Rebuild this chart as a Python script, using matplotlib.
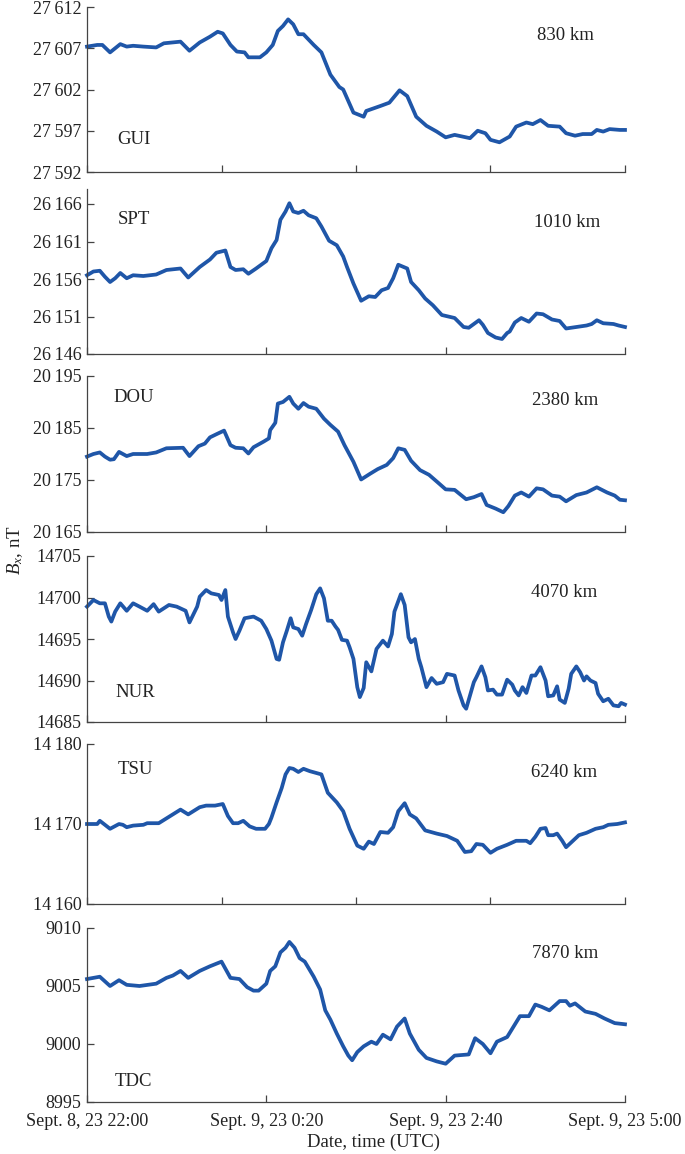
import matplotlib
matplotlib.use("Agg")
import matplotlib.pyplot as plt

plt.rcParams['font.family'] = ['Liberation Serif', 'DejaVu Serif']
plt.rcParams['mathtext.fontset'] = 'custom'
plt.rcParams['mathtext.rm'] = 'Liberation Serif'
plt.rcParams['mathtext.it'] = 'Liberation Serif:italic'

# time in minutes after Sept. 8, 23 22:00 UTC
GUI_t = [0, 8, 12, 18, 26, 31, 36, 44, 54, 60, 73, 80, 88, 96, 102, 106, 112, 117, 123, 126,
         135, 140, 145, 149, 153, 157, 161, 165, 169, 177, 183, 190, 197, 200, 208, 216, 218, 229, 236, 244,
         250, 257, 265, 273, 280, 287, 299, 305, 311, 315, 322, 330, 335, 343, 348, 354, 360, 369, 374, 381,
         387, 394, 398, 403, 408, 416, 420]
GUI_v = [27607.2, 27607.4, 27607.4, 27606.5, 27607.5, 27607.2, 27607.3, 27607.2, 27607.1, 27607.6,
         27607.8, 27606.7, 27607.7, 27608.4, 27609.0, 27608.8, 27607.4, 27606.6, 27606.5, 27605.9,
         27605.9, 27606.5, 27607.4, 27609.1, 27609.7, 27610.5, 27609.9, 27608.7, 27608.7, 27607.4,
         27606.5, 27603.8, 27602.3, 27602.0, 27599.2, 27598.7, 27599.4, 27600.0, 27600.4, 27601.9,
         27601.2, 27598.7, 27597.6, 27596.9, 27596.2, 27596.5, 27596.1, 27597.0, 27596.7, 27595.9,
         27595.6, 27596.3, 27597.5, 27598.0, 27597.8, 27598.3, 27597.6, 27597.5, 27596.7, 27596.4,
         27596.6, 27596.6, 27597.1, 27596.9, 27597.2, 27597.1, 27597.1]

SPT_t = [0, 5, 10, 14, 18, 22, 26, 31, 36, 44, 54, 62, 73, 79, 88, 96, 101, 108, 112, 116,
         122, 126, 132, 140, 144, 148, 151, 155, 158, 161, 165, 169, 173, 179, 183, 189, 195, 200, 203, 208,
         214, 220, 225, 230, 235, 239, 243, 250, 253, 259, 264, 270, 277, 282, 287, 294, 298, 306, 309, 313,
         319, 324, 328, 330, 334, 339, 345, 351, 356, 363, 369, 374, 382, 390, 394, 398, 403, 411, 415, 420]
SPT_v = [26156.5, 26157.0, 26157.1, 26156.3, 26155.6, 26156.1, 26156.8, 26156.1, 26156.5, 26156.4,
         26156.6, 26157.2, 26157.4, 26156.2, 26157.6, 26158.6, 26159.5, 26159.8, 26157.6, 26157.2,
         26157.3, 26156.7, 26157.4, 26158.4, 26160.1, 26161.2, 26163.9, 26165.0, 26166.1, 26165.0,
         26164.8, 26165.1, 26164.5, 26164.1, 26163.0, 26161.1, 26160.5, 26159.0, 26157.6, 26155.4,
         26153.1, 26153.7, 26153.6, 26154.5, 26154.8, 26156.1, 26157.9, 26157.4, 26155.6, 26154.5,
         26153.4, 26152.5, 26151.2, 26151.0, 26150.8, 26149.6, 26149.5, 26150.5, 26149.9, 26148.8,
         26148.2, 26148.0, 26148.8, 26149.0, 26150.2, 26150.8, 26150.3, 26151.4, 26151.3, 26150.6,
         26150.4, 26149.4, 26149.6, 26149.8, 26150.0, 26150.5, 26150.1, 26150.0, 26149.8, 26149.6]

DOU_t = [0, 5, 10, 14, 18, 21, 25, 31, 36, 47, 54, 62, 75, 80, 87, 92, 96, 101, 107, 112,
         116, 122, 126, 130, 138, 142, 143, 147, 149, 153, 158, 161, 165, 169, 173, 179, 185, 190, 196, 201,
         208, 214, 221, 227, 234, 239, 243, 248, 253, 260, 267, 274, 280, 287, 296, 302, 308, 312, 319, 325,
         329, 334, 339, 345, 351, 356, 363, 369, 374, 382, 390, 398, 406, 412, 416, 420]
DOU_v = [20179.5, 20180.0, 20180.3, 20179.5, 20178.9, 20179.0, 20180.4, 20179.6, 20180.0, 20180.0,
         20180.3, 20181.1, 20181.2, 20179.6, 20181.5, 20182.0, 20183.2, 20183.8, 20184.5, 20181.7,
         20181.2, 20181.1, 20180.1, 20181.3, 20182.4, 20183.0, 20184.6, 20186.0, 20189.7, 20190.0,
         20191.0, 20189.7, 20188.7, 20189.8, 20189.1, 20188.7, 20186.8, 20185.6, 20184.3, 20181.7,
         20178.5, 20175.1, 20176.2, 20177.1, 20177.9, 20179.2, 20181.1, 20180.8, 20178.7, 20176.9,
         20176.0, 20174.5, 20173.2, 20173.1, 20171.3, 20171.7, 20172.3, 20170.2, 20169.5, 20168.8,
         20170.0, 20172.0, 20172.6, 20171.8, 20173.4, 20173.2, 20172.0, 20171.8, 20170.9, 20172.1,
         20172.6, 20173.6, 20172.6, 20172.0, 20171.2, 20171.1]

NUR_t = [0, 5, 10, 14, 17, 19, 22, 26, 31, 36, 41, 47, 52, 56, 64, 70, 77, 80, 86, 88,
         93, 97, 103, 105, 108, 110, 114, 116, 119, 123, 130, 136, 140, 144, 148, 150, 153, 156, 159, 161,
         165, 168, 171, 175, 179, 182, 185, 188, 191, 194, 196, 199, 203, 205, 208, 211, 213, 216, 218, 222,
         226, 231, 235, 238, 240, 245, 248, 251, 253, 256, 259, 261, 265, 269, 273, 278, 281, 287, 290, 294,
         296, 302, 304, 308, 311, 313, 317, 320, 324, 328, 332, 334, 337, 340, 343, 347, 350, 354, 358, 360,
         364, 367, 369, 373, 376, 378, 382, 385, 388, 390, 393, 397, 399, 403, 407, 411, 415, 417, 420]
NUR_v = [14698.9, 14699.7, 14699.3, 14699.3, 14697.7, 14697.1, 14698.3, 14699.3, 14698.4, 14699.3,
         14698.9, 14698.4, 14699.2, 14698.3, 14699.1, 14698.9, 14698.4, 14697.0, 14698.9, 14700.1,
         14700.9, 14700.5, 14700.3, 14699.7, 14700.9, 14697.7, 14695.8, 14695.0, 14696.0, 14697.5,
         14697.7, 14697.2, 14696.2, 14694.8, 14692.6, 14692.5, 14694.6, 14696.0, 14697.5, 14696.4,
         14696.2, 14695.4, 14696.8, 14698.5, 14700.4, 14701.1, 14699.9, 14697.2, 14697.2, 14696.5,
         14696.1, 14694.9, 14694.8, 14694.0, 14692.6, 14689.2, 14688.0, 14689.1, 14692.2, 14691.1,
         14693.8, 14694.8, 14694.1, 14695.6, 14698.3, 14700.4, 14699.1, 14695.2, 14694.6, 14695.0,
         14692.6, 14691.6, 14689.2, 14690.3, 14689.6, 14689.8, 14690.8, 14690.6, 14688.8, 14687.0,
         14686.6, 14689.8, 14690.4, 14691.7, 14690.4, 14688.8, 14688.9, 14688.3, 14688.3, 14690.1,
         14689.5, 14688.8, 14688.2, 14689.2, 14688.5, 14690.6, 14690.6, 14691.6, 14690.0, 14688.1,
         14688.2, 14689.3, 14687.7, 14687.3, 14689.0, 14690.8, 14691.7, 14691.0, 14690.0, 14690.5,
         14690.0, 14689.7, 14688.4, 14687.5, 14687.8, 14687.0, 14686.9, 14687.3, 14687.1]

TSU_t = [0, 8, 10, 14, 18, 25, 28, 31, 36, 44, 47, 56, 65, 73, 79, 88, 93, 100, 106, 110,
         114, 118, 122, 127, 132, 139, 142, 144, 148, 152, 155, 158, 161, 165, 169, 174, 183, 188, 195, 200,
         205, 211, 216, 220, 224, 229, 235, 239, 243, 248, 252, 257, 264, 273, 281, 289, 295, 300, 304, 309,
         315, 320, 328, 335, 343, 346, 350, 354, 358, 360, 364, 367, 371, 374, 378, 384, 390, 397, 403, 407,
         414, 420]
TSU_v = [14170.0, 14170.0, 14170.4, 14169.9, 14169.4, 14170.0, 14169.9, 14169.6, 14169.8, 14169.9,
         14170.1, 14170.1, 14171.0, 14171.8, 14171.2, 14172.1, 14172.3, 14172.3, 14172.5, 14171.0,
         14170.1, 14170.1, 14170.4, 14169.7, 14169.4, 14169.4, 14170.0, 14170.8, 14172.7, 14174.5,
         14176.2, 14177.0, 14176.9, 14176.5, 14176.9, 14176.6, 14176.2, 14173.9, 14172.7, 14171.6,
         14169.4, 14167.3, 14166.9, 14167.8, 14167.5, 14169.0, 14168.9, 14169.6, 14171.6, 14172.6,
         14171.2, 14170.7, 14169.2, 14168.8, 14168.5, 14167.9, 14166.5, 14166.6, 14167.5, 14167.4,
         14166.4, 14166.9, 14167.4, 14167.9, 14167.9, 14167.6, 14168.4, 14169.4, 14169.5, 14168.6,
         14168.6, 14168.8, 14167.9, 14167.1, 14167.7, 14168.6, 14168.9, 14169.4, 14169.6, 14169.9,
         14170.0, 14170.2]

TDC_t = [0, 5, 10, 14, 18, 25, 31, 41, 54, 62, 67, 73, 79, 88, 96, 105, 112, 119, 125, 130,
         134, 140, 143, 147, 151, 155, 158, 162, 166, 170, 177, 182, 186, 190, 195, 200, 204, 207, 211, 216,
         222, 226, 231, 237, 242, 248, 252, 259, 265, 273, 280, 287, 298, 303, 309, 315, 320, 328, 333, 338,
         345, 350, 355, 361, 369, 374, 377, 381, 389, 397, 404, 412, 420]
TDC_v = [9005.6, 9005.7, 9005.8, 9005.4, 9005.0, 9005.5, 9005.1, 9005.0, 9005.2, 9005.7,
         9005.9, 9006.3, 9005.7, 9006.3, 9006.7, 9007.1, 9005.7, 9005.6, 9004.9, 9004.6,
         9004.6, 9005.2, 9006.3, 9006.7, 9007.9, 9008.3, 9008.8, 9008.3, 9007.4, 9007.1,
         9005.8, 9004.7, 9002.9, 9002.1, 9000.9, 8999.8, 8999.0, 8998.6, 8999.3, 8999.8,
         9000.2, 9000.0, 9000.8, 9000.4, 9001.5, 9002.2, 9000.9, 8999.5, 8998.8, 8998.5,
         8998.3, 8999.0, 8999.1, 9000.5, 9000.0, 8999.2, 9000.2, 9000.6, 9001.5, 9002.4,
         9002.4, 9003.4, 9003.2, 9002.9, 9003.7, 9003.7, 9003.3, 9003.5, 9002.8, 9002.6,
         9002.2, 9001.8, 9001.7]

stations = ['GUI', 'SPT', 'DOU', 'NUR', 'TSU', 'TDC']
distances = ['830 km', '1010 km', '2380 km', '4070 km', '6240 km', '7870 km']
y_ticks = [[27592, 27597, 27602, 27607, 27612],
           [26146, 26151, 26156, 26161, 26166],
           [20165, 20175, 20185, 20195],
           [14685, 14690, 14695, 14700, 14705],
           [14160, 14170, 14180],
           [8995, 9000, 9005, 9010]]
y_limits = [(27592, 27612), (26146, 26168), (20165, 20195),
            (14685, 14705), (14160, 14180), (8995, 9010)]
x_tick_labels = ['Sept. 8, 23 22:00', 'Sept. 9, 23 0:20', 'Sept. 9, 23 2:40', 'Sept. 9, 23 5:00']
x_ticks_third = [0, 140, 280, 420]
x_ticks_quarter = [0, 105, 210, 315, 420]

series_t = [GUI_t, SPT_t, DOU_t, NUR_t, TSU_t, TDC_t]
series_v = [GUI_v, SPT_v, DOU_v, NUR_v, TSU_v, TDC_v]

W, H = 685, 1154
fig = plt.figure(figsize=(W / 100, H / 100), dpi=100)

# panel pixel extents (top, bottom)
extents = [(7, 172), (189, 354), (376, 532), (556, 722), (744, 904), (928, 1102)]
left_px, right_px = 87, 625
station_pos = [(0.056, 0.194), (0.058, 0.818), (0.050, 0.865), (0.052, 0.18), (0.056, 0.8375), (0.052, 0.115)]
dist_pos = [(0.836, 0.83), (0.831, 0.794), (0.827, 0.846), (0.825, 0.783), (0.825, 0.819), (0.827, 0.856)]
quarter_panels = [0, 4]

line_color = '#1f56a8'
axis_color = '#444444'
text_color = '#222222'


def fmt(v, thin):
    if thin and v >= 10000:
        return f"{v // 1000}\u2009{v % 1000:03d}"
    return str(v)


for i in range(6):
    top, bot = extents[i]
    ax = fig.add_axes([left_px / W, 1 - bot / H, (right_px - left_px) / W, (bot - top) / H])
    ax.plot(series_t[i], series_v[i], color=line_color, lw=2.7, solid_joinstyle='round', clip_on=False)
    ax.set_xlim(0, 420)
    ax.set_ylim(*y_limits[i])
    for s in ['top', 'right']:
        ax.spines[s].set_visible(False)
    for s in ['left', 'bottom']:
        ax.spines[s].set_color(axis_color)
        ax.spines[s].set_linewidth(0.9)
    ax.set_yticks(y_ticks[i])
    ax.set_yticklabels([fmt(v, i != 3) for v in y_ticks[i]])
    if i in quarter_panels:
        ax.set_xticks(x_ticks_quarter)
    else:
        ax.set_xticks(x_ticks_third)
    if i == 5:
        ax.set_xticklabels(x_tick_labels)
    else:
        ax.set_xticklabels([])
    ax.tick_params(direction='in', length=5, width=0.9, color=axis_color,
                   labelsize=13, labelcolor=text_color, pad=4)
    ax.tick_params(axis='x', pad=8)
    ax.text(station_pos[i][0], station_pos[i][1], stations[i], transform=ax.transAxes,
            fontsize=13.5, color=text_color, ha='left', va='center')
    ax.text(dist_pos[i][0], dist_pos[i][1], distances[i], transform=ax.transAxes,
            fontsize=13.5, color=text_color, ha='left', va='center')

fig.text(15 / W, 1 - 550 / H, r'$B_x$, nT', rotation=90, ha='center', va='center',
         fontsize=13.5, color=text_color)
fig.text(374 / W, 1 - 1142 / H, 'Date, time (UTC)', ha='center', va='center',
         fontsize=13.5, color=text_color)

fig.savefig('out.png', dpi=100)
